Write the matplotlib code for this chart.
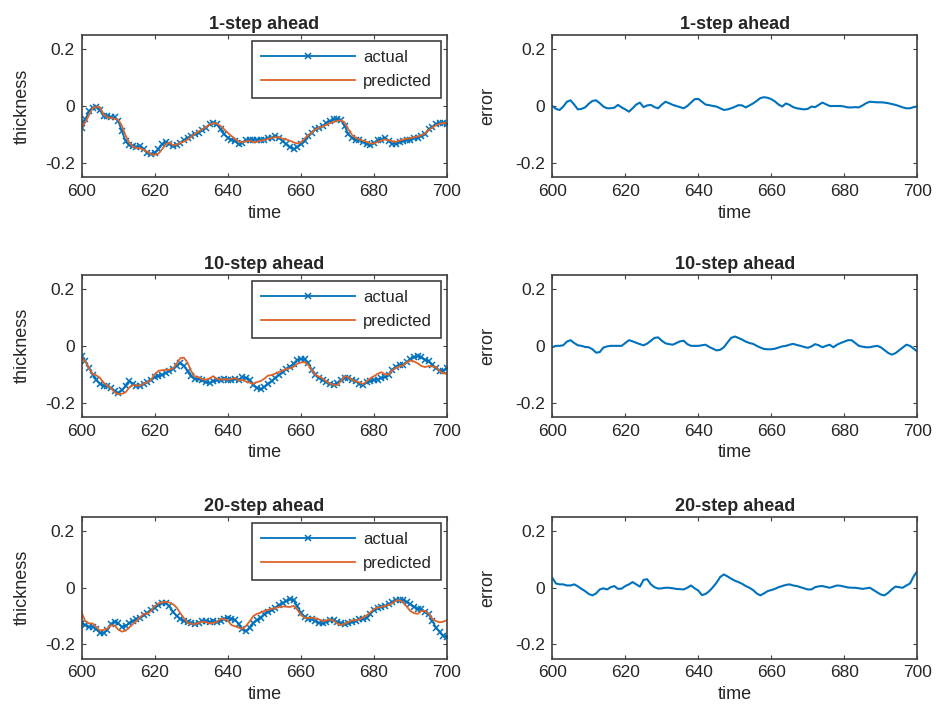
import numpy as np
import matplotlib.pyplot as plt

plt.rcParams['font.family'] = ['Liberation Sans', 'DejaVu Sans']
plt.rcParams['axes.unicode_minus'] = False

time = np.arange(600, 701)

# 1-step ahead
actual_1 = [
    -0.076, -0.047, -0.018, -0.006, -0.004, -0.015, -0.035, -0.035, -0.040, -0.040,
    -0.053, -0.088, -0.124, -0.138, -0.141, -0.145, -0.141, -0.153, -0.165, -0.170,
    -0.165, -0.153, -0.135, -0.126, -0.133, -0.141, -0.138, -0.130, -0.121, -0.112,
    -0.106, -0.100, -0.094, -0.086, -0.076, -0.065, -0.059, -0.065, -0.082, -0.100,
    -0.112, -0.118, -0.124, -0.135, -0.130, -0.121, -0.118, -0.118, -0.118, -0.118,
    -0.118, -0.114, -0.112, -0.106, -0.112, -0.124, -0.135, -0.145, -0.153, -0.145,
    -0.135, -0.124, -0.106, -0.094, -0.082, -0.076, -0.071, -0.059, -0.053, -0.047,
    -0.047, -0.050, -0.071, -0.100, -0.112, -0.118, -0.121, -0.126, -0.133, -0.138,
    -0.130, -0.121, -0.118, -0.114, -0.124, -0.133, -0.133, -0.126, -0.124, -0.121,
    -0.118, -0.114, -0.112, -0.106, -0.100, -0.082, -0.074, -0.065, -0.059, -0.059,
    -0.062]
predicted_1 = [
    -0.076, -0.057, -0.032, -0.008, -0.002, -0.004, -0.030, -0.040, -0.042, -0.045,
    -0.048, -0.070, -0.104, -0.128, -0.143, -0.148, -0.149, -0.155, -0.161, -0.170,
    -0.172, -0.168, -0.152, -0.135, -0.128, -0.138, -0.136, -0.130, -0.125, -0.118,
    -0.108, -0.098, -0.090, -0.082, -0.074, -0.066, -0.060, -0.062, -0.070, -0.082,
    -0.095, -0.106, -0.116, -0.125, -0.128, -0.125, -0.122, -0.128, -0.126, -0.122,
    -0.120, -0.116, -0.112, -0.110, -0.110, -0.115, -0.118, -0.122, -0.128, -0.132,
    -0.128, -0.115, -0.102, -0.094, -0.082, -0.076, -0.072, -0.066, -0.060, -0.056,
    -0.052, -0.050, -0.058, -0.082, -0.102, -0.112, -0.118, -0.122, -0.126, -0.132,
    -0.132, -0.126, -0.122, -0.118, -0.120, -0.124, -0.126, -0.122, -0.118, -0.115,
    -0.113, -0.110, -0.107, -0.103, -0.096, -0.085, -0.076, -0.068, -0.062, -0.060,
    -0.060]
error_1 = [
    0.000, -0.010, -0.014, -0.002, 0.015, 0.020, 0.005, -0.012, -0.010, -0.005,
    0.008, 0.018, 0.020, 0.010, -0.002, -0.008, -0.008, -0.006, 0.004, -0.005,
    -0.012, -0.020, -0.008, 0.005, 0.012, -0.004, 0.002, 0.004, -0.004, -0.008,
    0.005, 0.015, 0.010, 0.004, 0.000, -0.004, -0.008, 0.000, 0.012, 0.024,
    0.025, 0.015, 0.005, 0.003, 0.000, -0.002, -0.008, -0.014, -0.012, -0.008,
    -0.003, 0.003, 0.002, -0.005, 0.002, 0.009, 0.018, 0.028, 0.031, 0.029,
    0.024, 0.016, 0.005, -0.002, 0.009, 0.004, -0.004, -0.008, -0.010, -0.012,
    -0.010, -0.002, -0.004, 0.004, 0.012, 0.006, 0.000, 0.000, 0.000, 0.000,
    -0.002, -0.005, -0.005, -0.004, -0.005, 0.002, 0.010, 0.015, 0.014, 0.013,
    0.013, 0.012, 0.010, 0.007, 0.004, 0.000, -0.005, -0.008, -0.008, -0.004,
    -0.002]

# 10-step ahead
actual_10 = [
    -0.037, -0.055, -0.078, -0.102, -0.119, -0.133, -0.140, -0.143, -0.149, -0.160,
    -0.166, -0.157, -0.140, -0.125, -0.133, -0.143, -0.140, -0.133, -0.129, -0.119,
    -0.110, -0.108, -0.102, -0.096, -0.090, -0.082, -0.070, -0.061, -0.070, -0.090,
    -0.108, -0.117, -0.117, -0.122, -0.129, -0.131, -0.125, -0.122, -0.119, -0.117,
    -0.119, -0.119, -0.117, -0.119, -0.110, -0.113, -0.122, -0.137, -0.149, -0.154,
    -0.145, -0.133, -0.125, -0.113, -0.102, -0.094, -0.082, -0.073, -0.063, -0.051,
    -0.047, -0.047, -0.061, -0.084, -0.102, -0.113, -0.122, -0.129, -0.133, -0.137,
    -0.131, -0.122, -0.113, -0.113, -0.119, -0.125, -0.133, -0.137, -0.129, -0.125,
    -0.122, -0.119, -0.113, -0.110, -0.102, -0.084, -0.073, -0.067, -0.067, -0.058,
    -0.047, -0.040, -0.037, -0.040, -0.049, -0.055, -0.067, -0.078, -0.090, -0.087,
    -0.078]
predicted_10 = [
    -0.042, -0.055, -0.078, -0.100, -0.104, -0.113, -0.130, -0.141, -0.149, -0.164,
    -0.171, -0.169, -0.164, -0.147, -0.139, -0.140, -0.140, -0.133, -0.129, -0.119,
    -0.100, -0.088, -0.086, -0.085, -0.084, -0.080, -0.062, -0.043, -0.042, -0.060,
    -0.090, -0.108, -0.111, -0.118, -0.119, -0.115, -0.107, -0.116, -0.119, -0.117,
    -0.119, -0.117, -0.113, -0.123, -0.120, -0.126, -0.130, -0.134, -0.128, -0.124,
    -0.116, -0.105, -0.103, -0.098, -0.092, -0.087, -0.082, -0.079, -0.074, -0.063,
    -0.059, -0.057, -0.067, -0.086, -0.102, -0.109, -0.115, -0.126, -0.133, -0.138,
    -0.138, -0.124, -0.107, -0.111, -0.120, -0.125, -0.129, -0.135, -0.125, -0.115,
    -0.107, -0.099, -0.093, -0.100, -0.102, -0.087, -0.078, -0.072, -0.069, -0.058,
    -0.052, -0.055, -0.062, -0.071, -0.075, -0.071, -0.073, -0.074, -0.090, -0.097,
    -0.098]
error_10 = [
    -0.005, 0.000, 0.000, 0.002, 0.015, 0.020, 0.010, 0.002, 0.000, -0.004,
    -0.005, -0.012, -0.024, -0.022, -0.006, -0.002, 0.000, 0.000, 0.000, 0.000,
    0.010, 0.020, 0.016, 0.011, 0.006, 0.002, 0.008, 0.018, 0.028, 0.030,
    0.018, 0.009, 0.006, 0.004, 0.010, 0.016, 0.018, 0.006, 0.000, 0.000,
    0.000, 0.002, 0.004, -0.004, -0.010, -0.016, -0.014, -0.005, 0.012, 0.028,
    0.033, 0.028, 0.022, 0.015, 0.010, 0.007, 0.000, -0.006, -0.011, -0.012,
    -0.012, -0.010, -0.006, -0.002, 0.000, 0.004, 0.007, 0.003, 0.000, -0.004,
    -0.007, -0.002, 0.006, 0.002, -0.005, 0.000, 0.004, -0.005, 0.004, 0.010,
    0.015, 0.020, 0.020, 0.010, 0.000, -0.003, -0.005, -0.005, -0.002, 0.000,
    -0.005, -0.015, -0.025, -0.031, -0.026, -0.016, -0.006, 0.004, 0.000, -0.010,
    -0.020]

# 20-step ahead
actual_20 = [
    -0.124, -0.133, -0.138, -0.138, -0.147, -0.159, -0.161, -0.149, -0.129, -0.121,
    -0.126, -0.138, -0.135, -0.126, -0.118, -0.112, -0.106, -0.098, -0.088, -0.079,
    -0.071, -0.062, -0.055, -0.055, -0.065, -0.086, -0.100, -0.109, -0.118, -0.121,
    -0.126, -0.129, -0.124, -0.118, -0.118, -0.121, -0.118, -0.121, -0.118, -0.109,
    -0.106, -0.109, -0.114, -0.129, -0.147, -0.153, -0.141, -0.124, -0.114, -0.106,
    -0.094, -0.086, -0.079, -0.071, -0.062, -0.055, -0.047, -0.041, -0.044, -0.065,
    -0.088, -0.102, -0.109, -0.112, -0.118, -0.124, -0.126, -0.121, -0.114, -0.114,
    -0.121, -0.126, -0.129, -0.126, -0.121, -0.118, -0.112, -0.109, -0.106, -0.094,
    -0.079, -0.071, -0.067, -0.065, -0.059, -0.051, -0.044, -0.044, -0.044, -0.051,
    -0.059, -0.067, -0.074, -0.076, -0.086, -0.094, -0.118, -0.141, -0.156, -0.171,
    -0.173]
predicted_20 = [
    -0.089, -0.118, -0.126, -0.126, -0.139, -0.151, -0.149, -0.144, -0.133, -0.133,
    -0.148, -0.155, -0.152, -0.140, -0.128, -0.118, -0.104, -0.092, -0.092, -0.082,
    -0.065, -0.055, -0.052, -0.050, -0.052, -0.058, -0.070, -0.090, -0.108, -0.124,
    -0.128, -0.129, -0.124, -0.120, -0.122, -0.126, -0.124, -0.121, -0.110, -0.111,
    -0.116, -0.132, -0.136, -0.141, -0.145, -0.135, -0.118, -0.100, -0.092, -0.088,
    -0.082, -0.078, -0.074, -0.072, -0.068, -0.066, -0.067, -0.068, -0.064, -0.077,
    -0.096, -0.106, -0.107, -0.106, -0.108, -0.112, -0.118, -0.115, -0.112, -0.116,
    -0.127, -0.132, -0.127, -0.121, -0.115, -0.115, -0.112, -0.105, -0.098, -0.087,
    -0.075, -0.070, -0.067, -0.065, -0.061, -0.055, -0.046, -0.044, -0.052, -0.067,
    -0.083, -0.090, -0.092, -0.082, -0.082, -0.092, -0.110, -0.118, -0.122, -0.120,
    -0.114]
error_20 = [
    0.035, 0.015, 0.012, 0.012, 0.008, 0.008, 0.012, 0.005, -0.004, -0.012,
    -0.022, -0.027, -0.020, -0.006, -0.002, -0.006, 0.002, 0.006, -0.004, -0.003,
    0.006, 0.012, 0.020, 0.012, 0.004, 0.028, 0.030, 0.012, 0.002, -0.003,
    -0.002, 0.000, 0.000, -0.002, -0.004, -0.005, -0.006, 0.000, 0.008, -0.002,
    -0.010, -0.026, -0.022, -0.012, 0.002, 0.018, 0.038, 0.047, 0.040, 0.032,
    0.025, 0.020, 0.014, 0.006, 0.000, -0.008, -0.020, -0.027, -0.020, -0.012,
    -0.008, -0.004, 0.002, 0.006, 0.010, 0.012, 0.008, 0.006, 0.002, -0.002,
    -0.006, -0.006, 0.002, 0.005, 0.006, 0.003, 0.000, 0.004, 0.008, 0.007,
    0.004, 0.001, 0.000, 0.000, -0.002, -0.004, -0.002, 0.000, -0.008, -0.016,
    -0.024, -0.027, -0.018, -0.006, 0.004, 0.002, 0.000, 0.008, 0.015, 0.040,
    0.059]

titles = ['1-step ahead', '10-step ahead', '20-step ahead']
actuals = [actual_1, actual_10, actual_20]
predicteds = [predicted_1, predicted_10, predicted_20]
errors = [error_1, error_10, error_20]

blue = '#0072BD'
orange = '#DE6328'
box_col = '#404040'
text_col = '#262626'

fig = plt.figure(figsize=(9.38, 7.2), dpi=100)

# axes boxes in pixels: (left, top, right, bottom)
col_x = [(81.7, 447.0), (552.3, 917.3)]
row_y = [(35.0, 177.0), (275.0, 416.7), (517.0, 658.5)]
W, H = 938.0, 720.0


def style_axes(ax):
    ax.set_xlim(600, 700)
    ax.set_ylim(-0.25, 0.25)
    ax.set_xticks([600, 620, 640, 660, 680, 700])
    ax.set_yticks([-0.2, 0, 0.2])
    ax.set_yticklabels(['-0.2', '0', '0.2'])
    ax.tick_params(direction='in', length=3, width=0.8, color=box_col,
                   labelcolor=text_col, top=True, right=True,
                   labelsize=12.5, pad=5)
    for s in ax.spines.values():
        s.set_color(box_col)
        s.set_linewidth(1.2)
    ax.set_xlabel('time', fontsize=13, labelpad=4, color=text_col)


for i in range(3):
    top, bot = row_y[i]
    for j in range(2):
        l, r = col_x[j]
        ax = fig.add_axes([l / W, 1 - bot / H, (r - l) / W, (bot - top) / H])
        if j == 0:
            ax.plot(time, actuals[i], color=blue, marker='x', markersize=4,
                    markeredgewidth=1.1, linewidth=1.3, label='actual')
            ax.plot(time, predicteds[i], color=orange, linewidth=1.3,
                    label='predicted')
            ax.set_ylabel('thickness', fontsize=13, labelpad=10, color=text_col)
            leg = ax.legend(loc='upper right', fontsize=12, handlelength=5.6,
                            fancybox=False, framealpha=1, borderaxespad=0.35,
                            handletextpad=0.5, labelspacing=0.55, borderpad=0.55)
            leg.get_frame().set_edgecolor(box_col)
            leg.get_frame().set_linewidth(1.2)
            for t in leg.get_texts():
                t.set_color(text_col)
        else:
            ax.plot(time, errors[i], color=blue, linewidth=1.5)
            ax.set_ylabel('error', fontsize=13, labelpad=14, color=text_col)
        ax.set_title(titles[i], fontsize=13, fontweight='bold', pad=4,
                     color=text_col)
        style_axes(ax)

fig.savefig('out.png', dpi=100)
